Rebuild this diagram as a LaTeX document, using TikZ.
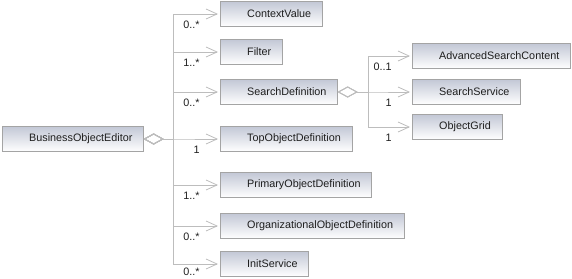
\documentclass[tikz,border=0pt]{standalone}
\usepackage{fontspec}
\setmainfont{Liberation Sans}
\usetikzlibrary{arrows.meta}
\definecolor{Frame}{HTML}{A4A4A4}
\definecolor{Wire}{HTML}{BDBDBD}
\definecolor{Shade}{HTML}{C3C8D6}
\definecolor{Ink}{HTML}{1E1E1E}
\tikzset{
  class box/.style={draw=Frame,top color=Shade,bottom color=white,anchor=west,
    minimum height=25pt,inner xsep=11pt,inner ysep=0pt,
    font=\fontsize{10.8pt}{12pt}\selectfont,text=Ink,
    execute at begin node={\hspace*{16pt}}},
  aggregation/.style={draw=Wire,line width=.8pt,shorten >=2pt,
    {Diamond[open,length=20pt,width=11pt]}-{Straight Barb[length=11pt,width=10pt]}},
  multiplicity/.style={font=\fontsize{10.8pt}{12pt}\selectfont,text=Ink,
    inner sep=0pt,anchor=north east,at end,xshift=-20pt,yshift=-7pt}
}

\begin{document}
\begin{tikzpicture}[x=1pt,y=-1pt]
  \useasboundingbox (0,0) rectangle (572,278);
  \node[class box] (editor) at (2,139) {BusinessObjectEditor};
  \node[class box] (context) at (220,14) {ContextValue};
  \node[class box] (filter) at (220,52) {Filter};
  \node[class box] (searchdef) at (220,92) {SearchDefinition};
  \node[class box] (topobj) at (220,139) {TopObjectDefinition};
  \node[class box] (primary) at (220,185) {PrimaryObjectDefinition};
  \node[class box] (orgobj) at (220,226) {OrganizationalObjectDefinition};
  \node[class box] (init) at (220,264) {InitService};
  \node[class box] (advanced) at (412,56) {AdvancedSearchContent};
  \node[class box] (service) at (412,92) {SearchService};
  \node[class box] (grid) at (412,127) {ObjectGrid};
  \coordinate (fork) at (173,139);
  \coordinate (subfork) at (368,92);
  % editor owns the definition classes
  \draw[aggregation] (editor.east) -- (fork) |- (context.west) node[multiplicity] {0..*};
  \draw[aggregation] (editor.east) -- (fork) |- (filter.west) node[multiplicity] {1..*};
  \draw[aggregation] (editor.east) -- (fork) |- (searchdef.west) node[multiplicity] {0..*};
  \draw[aggregation] (editor.east) -- (fork) |- (topobj.west) node[multiplicity] {1};
  \draw[aggregation] (editor.east) -- (fork) |- (primary.west) node[multiplicity] {1..*};
  \draw[aggregation] (editor.east) -- (fork) |- (orgobj.west) node[multiplicity] {0..*};
  \draw[aggregation] (editor.east) -- (fork) |- (init.west) node[multiplicity,yshift=3pt] {0..*};
  % search definition parts
  \draw[aggregation] (searchdef.east) -- (subfork) |- (advanced.west) node[multiplicity] {0..1};
  \draw[aggregation] (searchdef.east) -- (subfork) |- (service.west) node[multiplicity] {1};
  \draw[aggregation] (searchdef.east) -- (subfork) |- (grid.west) node[multiplicity] {1};
\end{tikzpicture}
\end{document}
